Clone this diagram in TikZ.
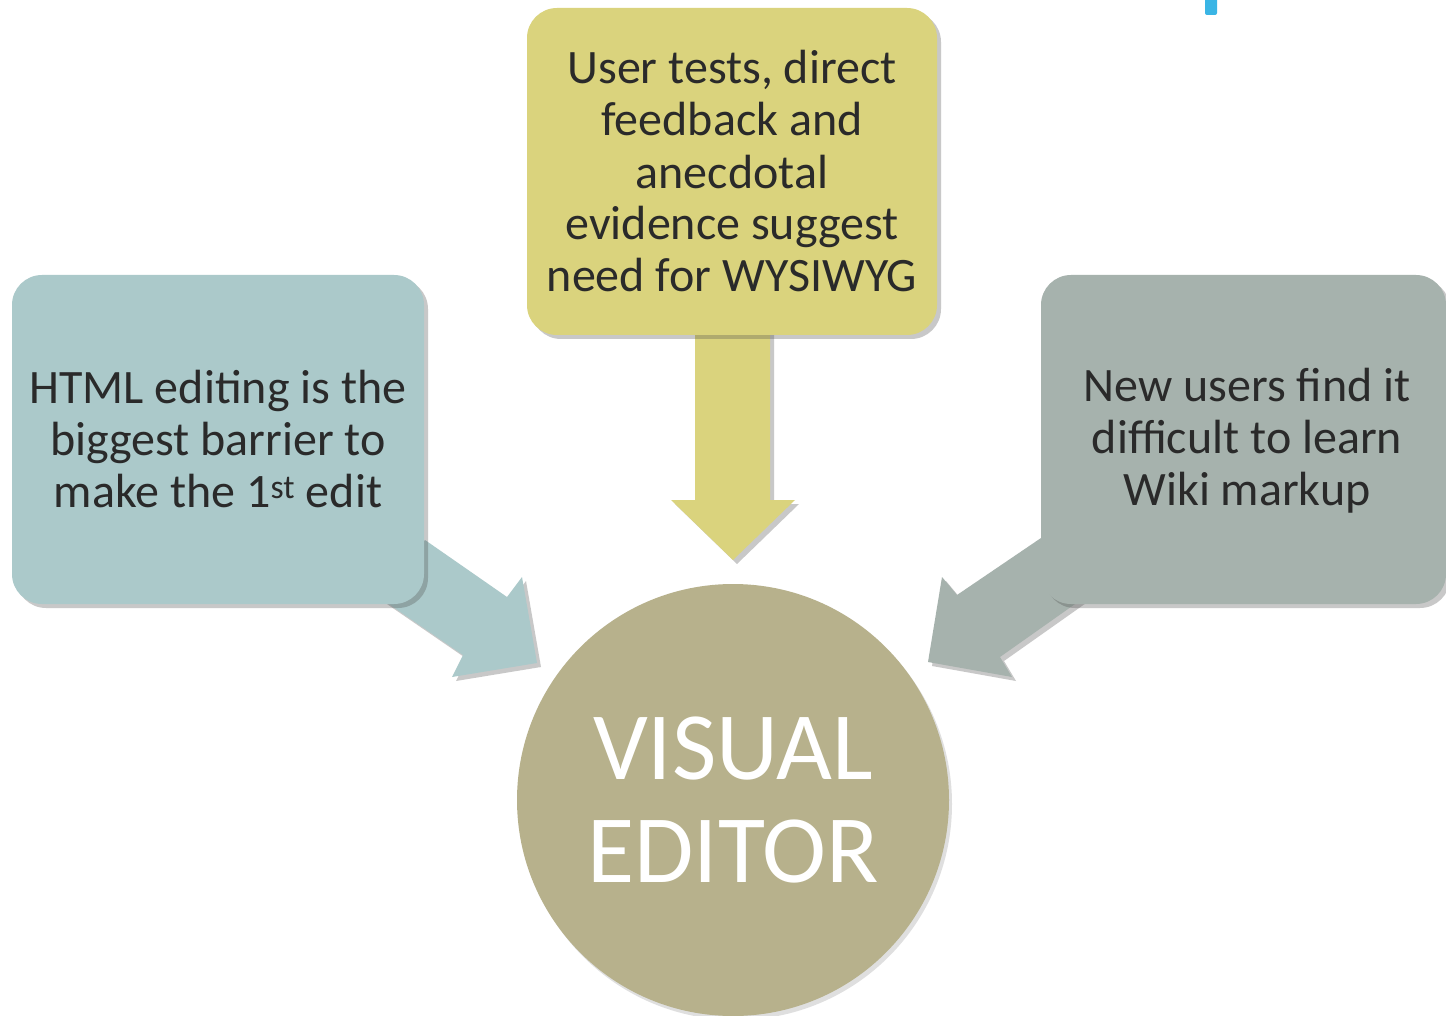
\documentclass[tikz,border=0pt]{standalone}
\usepackage{fontspec}
\setmainfont{Carlito}
\usetikzlibrary{shadows}
\definecolor{cyel}{HTML}{DAD37D}
\definecolor{cblu}{HTML}{ABC9CA}
\definecolor{cgry}{HTML}{A6B2AD}
\definecolor{ccir}{HTML}{B7B18C}
\definecolor{ctxt}{HTML}{2A2A2A}
\definecolor{cmark}{HTML}{3AB5E5}
\tikzset{
  shad/.style={drop shadow={shadow xshift=4pt, shadow yshift=-4pt, opacity=0.3, fill=black!70}},
  boxst/.style={shad, rounded corners=30pt, minimum width=412pt, minimum height=329pt,
     align=center, text=ctxt, font=\fontsize{48}{52}\selectfont, inner sep=0pt},
  arrowst/.style={shad, draw=none},
}
\begin{document}
\begin{tikzpicture}[x=1pt,y=-1pt]
\useasboundingbox (0,0) rectangle (1446,1016);
\fill[white] (0,0) rectangle (1446,1016);
\fill[cmark, rounded corners=2pt] (1205,-5) rectangle (1217,15);
% circle
\node[circle, fill=ccir, minimum size=432pt, inner sep=0pt, text=white, align=center,
  font=\fontsize{96.5}{103}\selectfont,
  drop shadow={shadow xshift=3pt, shadow yshift=-4pt, opacity=0.25}] (ve) at (733,800) {VISUAL\\EDITOR};
% arrows
\coordinate (la1) at (425,540);
\coordinate (la2) at (507,597);
\coordinate (la3) at (522,577);
\coordinate (la4) at (537,663);
\coordinate (la5) at (452,677);
\coordinate (la6) at (463,655);
\coordinate (la7) at (380,598);
\fill[cblu, arrowst] (la1) -- (la2) -- (la3) -- (la4) -- (la5) -- (la6) -- (la7) -- cycle;
\coordinate (ra1) at (1041,538);
\coordinate (ra2) at (957,595);
\coordinate (ra3) at (942,577);
\coordinate (ra4) at (928,662);
\coordinate (ra5) at (1012,677);
\coordinate (ra6) at (1000,657);
\coordinate (ra7) at (1085,597);
\fill[cgry, arrowst] (ra1) -- (ra2) -- (ra3) -- (ra4) -- (ra5) -- (ra6) -- (ra7) -- cycle;
\coordinate (ma1) at (695,320);
\coordinate (ma2) at (695,500);
\coordinate (ma3) at (671,500);
\coordinate (ma4) at (733,560);
\coordinate (ma5) at (795,500);
\coordinate (ma6) at (770,500);
\coordinate (ma7) at (770,320);
\fill[cyel, arrowst] (ma1) -- (ma2) -- (ma3) -- (ma4) -- (ma5) -- (ma6) -- (ma7) -- cycle;
% boxes
\node[boxst, fill=cyel, minimum width=410pt, minimum height=327pt] (mid) at (732,171.5)
  {User tests, direct\\feedback and\\anecdotal\\evidence suggest\\need for WYSIWYG};
\node[boxst, fill=cblu] (left) at (218,439.5)
  {HTML editing is the\\biggest barrier to\\make the 1\textsuperscript{st} edit};
\node[boxst, fill=cgry, minimum width=405pt] (right) at (1243.5,439.5) {};
\node[align=center, text=ctxt, font=\fontsize{48}{52}\selectfont, inner sep=0pt] (righttext) at (1247,441)
  {New users find it\\difficult to learn\\Wiki markup};
\end{tikzpicture}
\end{document}
